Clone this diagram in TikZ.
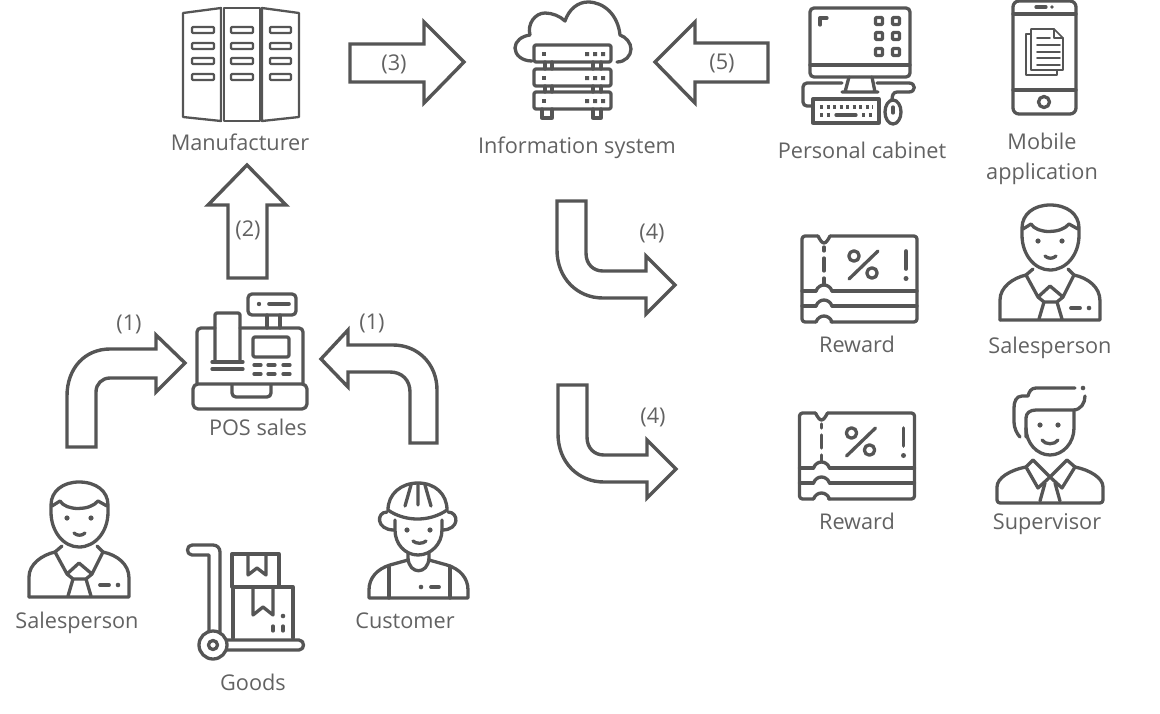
\documentclass[tikz,border=0pt]{standalone}
\usepackage{fontspec}
\setmainfont{Open Sans}
\usetikzlibrary{arrows,shapes,positioning}
\definecolor{icongray}{HTML}{555555}
\definecolor{textgray}{HTML}{626262}
\tikzset{
  icon/.style={draw=icongray, line width=3.3pt, line cap=round, line join=round},
  thinicon/.style={icon, line width=1.6pt},
  panelicon/.style={icon, line width=2.3pt},
  blockarrow/.style={draw=icongray, line width=3.4pt, line join=miter, fill=white},
  caption/.style={text=textgray, font=\fontsize{21.7}{26}\selectfont, inner sep=0pt, align=center},
  salesman/.pic={
    \draw[icon] (51,510) -- (51,505) .. controls (51,491) and (63,482) .. (79,482) .. controls (96,482) and (108,491) .. (108,505) -- (108,512)
      .. controls (108,532) and (95,547) .. (79,547) .. controls (64,547) and (51,532) .. (51,512) -- cycle;
    \draw[icon] (52,506) -- (60,501) .. controls (66,511) and (90,511) .. (98,501) -- (107,506);
    \fill[icongray] (67,518) circle (2.6) (91,518) circle (2.6);
    \draw[icon] (74,533) .. controls (77,536) and (82,536) .. (85,533);
    \draw[icon, rounded corners=1pt] (29,597) -- (29,578) .. controls (29,564) and (42,555) .. (55,552);
    \draw[icon] (103,552) .. controls (117,555) and (129,564) .. (129,578) -- (129,597) -- (29,597);
    \draw[icon] (62,546) -- (55,552) -- (67,574) -- (79,563) -- (92,574) -- (103,552) -- (97,546);
    \draw[icon] (67,574) -- (73,579) -- (86,579) -- (92,574);
    \draw[icon] (73,579) -- (68,596) (86,579) -- (91,596);
    \draw[icon, line width=3.8pt] (100,585) -- (109,585);
    \fill[icongray] (118,585) circle (2.3);
  },
  rewardticket/.pic={
    \draw[icon, rounded corners=3pt] (818,236) -- (802,236) -- (802,322) -- (816,322);
    \draw[icon, rounded corners=3pt] (831,322) -- (917,322) -- (917,236) -- (830,236);
    \draw[icon] (818,236) .. controls (820,240) and (822,243) .. (824,243) .. controls (826,243) and (828,240) .. (830,236);
    \draw[icon] (824,247) -- (824,251) (824,258) -- (824,271) (824,278) -- (824,284);
    \foreach \ya in {291,306,322} {
      \draw[icon] (816,\ya) .. controls (819,\ya-8) and (829,\ya-8) .. (832,\ya);
    }
    \draw[icon] (802,291) -- (816,291) (832,291) -- (917,291);
    \draw[icon] (802,306) -- (816,306) (832,306) -- (917,306);
    \draw[icon] (849,279) -- (878,251);
    \draw[icon] (854,256) circle (5.2) (872,273) circle (5.2);
    \draw[icon, line width=3.6pt] (906,251) -- (906,269);
    \fill[icongray] (906,278.5) circle (2.5);
  }
}

\begin{document}
\begin{tikzpicture}[x=1pt, y=-1pt]
  \useasboundingbox (0,0) rectangle (1160,713);

  % Define nodes
  \node[caption] (manufacturer) at (240,142) {Manufacturer};
  \node[caption] (infosystem) at (577,148) {Information system};
  \node[caption] (cabinet) at (862,150.5) {Personal cabinet};
  \node[caption] (mobile) at (1042,141) {Mobile};
  \node[caption] (mobileb) at (1042,174) {application};
  \node[caption] (possales) at (258,427) {POS sales};
  \node[caption] (salesleft) at (77,623) {Salesperson};
  \node[caption] (goods) at (253,682) {Goods};
  \node[caption] (customer) at (405,621) {Customer};
  \node[caption] (rewardtop) at (857,344) {Reward};
  \node[caption] (salesright) at (1050,348) {Salesperson};
  \node[caption] (rewardlow) at (857,521) {Reward};
  \node[caption] (supervisor) at (1047,524) {Supervisor};

  % Block arrows
  \draw[blockarrow] (350,44) -- (424,44) -- (424,22) -- (464,62) -- (424,103) -- (424,82) -- (350,82) -- cycle;
  \draw[blockarrow] (768,43) -- (695,43) -- (695,22) -- (655,62) -- (695,103) -- (695,82) -- (768,82) -- cycle;
  \draw[blockarrow] (228,278) -- (228,205) -- (208,205) -- (247,165) -- (286,205) -- (267,205) -- (267,278) -- cycle;
  \draw[blockarrow] (67,447) -- (67,396) .. controls (67,368) and (85,349) .. (110,349) -- (156,349) -- (156,335) -- (185,363) -- (156,392) -- (156,378)
    -- (110,378) .. controls (102,378) and (96,384) .. (96,392) -- (96,447) -- cycle;
  \draw[blockarrow] (437,443) -- (437,390) .. controls (437,364) and (418,345) .. (393,345) -- (348,345) -- (348,330) -- (321,359) -- (348,387) -- (348,372)
    -- (390,372) .. controls (402,372) and (410,380) .. (410,392) -- (410,443) -- cycle;
  \foreach \ya/\xa in {0/0,184/1} {
    \draw[blockarrow, shift={(\xa,\ya)}] (557,201) -- (586,201) -- (586,253) .. controls (586,264) and (593,271) .. (603,271) -- (646,271) -- (646,256) -- (675,285)
      -- (646,314) -- (646,298) -- (603,298) .. controls (577,298) and (557,278) .. (557,250) -- cycle;
  }
  \node[caption] (stepa) at (129,324) {(1)};
  \node[caption] (stepb) at (372,323) {(1)};
  \node[caption] (stepc) at (248,230) {(2)};
  \node[caption] (stepd) at (394,64) {(3)};
  \node[caption] (stepe) at (722,63) {(5)};
  \node[caption] (stepf) at (652,233) {(4)};
  \node[caption] (stepg) at (653,417) {(4)};

  % Manufacturer
  \draw[panelicon] (183,13) -- (221,8) -- (221,121) -- (183,117) -- cycle;
  \draw[panelicon, line width=2.8pt] (224,8) rectangle (260,121);
  \draw[panelicon] (262,8) -- (299,13) -- (299,117) -- (262,121) -- cycle;
  \foreach \ya in {30,46,61,77} {
    \draw[panelicon, rounded corners=1pt] (192,\ya-3) rectangle (214,\ya+3);
    \draw[panelicon, rounded corners=1pt] (231,\ya-3) rectangle (253,\ya+3);
    \draw[panelicon, rounded corners=1pt] (270,\ya-3) rectangle (291,\ya+3);
  }

  % Information system
  \draw[icon] (532,61) .. controls (522,61) and (515,55) .. (515,48) .. controls (515,41) and (522,36) .. (530,35)
    .. controls (527,24) and (535,13) .. (545,13) .. controls (552,13) and (560,16) .. (565,21)
    .. controls (569,9) and (578,2) .. (588,2) .. controls (604,2) and (618,15) .. (620,35)
    .. controls (626,37) and (631,43) .. (631,49) .. controls (631,56) and (625,62) .. (617,62);
  \foreach \ya in {45,69,92} {
    \draw[icon, rounded corners=2pt, fill=white] (534,\ya) rectangle (611,\ya+17);
    \fill[icongray] (541.5,\ya+7) rectangle +(4,4);
    \fill[icongray] (585,\ya+7) rectangle +(4,4) (593,\ya+7) rectangle +(4,4) (601,\ya+7) rectangle +(4,4);
  }
  \draw[icon] (545,62) -- (545,69) (552,62) -- (552,69) (593,62) -- (593,69) (601,62) -- (601,69);
  \draw[icon] (545,86) -- (545,92) (552,86) -- (552,92) (593,86) -- (593,92) (601,86) -- (601,92);
  \draw[icon] (542,109) -- (542,118) -- (552,118) -- (552,109) (593,109) -- (593,118) -- (601,118) -- (601,109);

  % Personal cabinet
  \draw[icon, rounded corners=4pt] (810,8) rectangle (910,77);
  \draw[icon] (810,65) -- (910,65);
  \draw[icon] (820,25) -- (820,18) -- (827,18);
  \foreach \xa in {879,896} {
    \foreach \ya in {21,36,52} {
      \draw[icon, rounded corners=1pt] (\xa-3.5,\ya-3.5) rectangle +(7,7);
    }
  }
  \draw[icon] (849,77) -- (845,92) (872,77) -- (875,92) (842,92) -- (878,92);
  \draw[icon, rounded corners=4pt] (842,83) -- (803,83) -- (803,106) -- (812,106);
  \draw[icon] (877,83) -- (909,83) .. controls (916,83) and (916,92) .. (909,92) -- (897,92) .. controls (893,92) and (892,96) .. (892,100);
  \draw[icon] (813,99) rectangle (879,123);
  \draw[icon, dash pattern=on 3pt off 3.5pt, line cap=butt] (820,107) -- (873,107);
  \draw[icon, dash pattern=on 3pt off 3.5pt, line cap=butt] (820,115) -- (830,115) (862,115) -- (873,115);
  \draw[icon] (836,115) -- (856,115);
  \draw[icon] (893,112) ellipse (8 and 12);
  \draw[icon] (893,107) -- (893,113);

  % Mobile application
  \draw[icon, rounded corners=6pt] (1013,1) rectangle (1076,114);
  \draw[icon] (1013,14) -- (1076,14) (1013,90) -- (1076,90);
  \draw[icon] (1036,7) -- (1046,7);
  \fill[icongray] (1052,7) circle (1.8);
  \draw[icon] (1044,102) circle (5.5);
  \draw[thinicon] (1031,34) -- (1026,34) -- (1026,75) -- (1057,75) -- (1057,70);
  \draw[thinicon] (1031,29) -- (1054,29) -- (1063,38) -- (1063,70) -- (1031,70) -- cycle;
  \draw[thinicon] (1054,29) -- (1054,38) -- (1063,38);
  \draw[thinicon] (1037,38) -- (1050,38);
  \foreach \ya in {45,52,58,65} {
    \draw[thinicon] (1037,\ya) -- (1060,\ya);
  }

  % POS sales
  \draw[icon, rounded corners=4pt] (248,294) rectangle (296,315);
  \fill[icongray] (259,304) circle (2.2);
  \draw[icon, line width=3.6pt] (269,304) -- (289,304);
  \draw[icon] (267,315) -- (267,328) (280,315) -- (280,328);
  \draw[icon, rounded corners=4pt] (215,328) -- (197,328) -- (197,384);
  \draw[icon, rounded corners=4pt] (240,328) -- (303,328) -- (303,384);
  \draw[icon, rounded corners=2pt] (215,362) -- (215,313) -- (240,313) -- (240,362);
  \draw[icon] (212,362) -- (243,362) (212,369) -- (243,369);
  \draw[icon, rounded corners=2pt] (253,337) rectangle (289,357);
  \foreach \ya in {365,374} {
    \draw[icon] (254,\ya) -- (261,\ya) (268,\ya) -- (275,\ya) (283,\ya) -- (290,\ya);
  }
  \draw[icon, rounded corners=5pt] (193,384) rectangle (307,409);
  \draw[icon, rounded corners=4pt] (232,385) -- (232,397) -- (271,397) -- (271,385);

  % Salespeople
  \pic at (0,0) {salesman};
  \pic at (971,-277) {salesman};

  % Goods
  \draw[icon] (192,545) -- (213,545) .. controls (217,545) and (220,548) .. (220,552) -- (220,632);
  \draw[icon] (192,545) .. controls (186,545) and (186,555) .. (192,555) -- (209,555) -- (209,632);
  \draw[icon] (213,645) circle (14) (213,645) circle (4.5);
  \draw[icon] (227,640) -- (299,640) .. controls (305,640) and (305,650) .. (299,650) -- (227,650);
  \draw[icon] (232,587) -- (232,554) -- (279,554) -- (279,587);
  \draw[icon] (233,638) -- (233,587) -- (293,587) -- (293,638);
  \draw[icon] (248,555) -- (248,575) -- (257,568) -- (266,575) -- (266,555);
  \draw[icon] (253,588) -- (253,615) -- (263,607) -- (273,615) -- (273,588);
  \fill[icongray] (283,616) circle (2.3);
  \draw[icon] (273,626) -- (273,631) (283,626) -- (283,631);

  % Customer
  \draw[icon] (388,510) .. controls (388,494) and (401,483) .. (418,483) .. controls (435,483) and (447,494) .. (447,510)
    .. controls (430,522) and (405,522) .. (388,510) -- cycle;
  \draw[icon] (405,506) -- (411,485) (418,484) -- (418,505) (431,506) -- (425,485);
  \draw[icon] (387,512) .. controls (376,512) and (376,530) .. (394,530);
  \draw[icon] (448,512) .. controls (459,512) and (460,530) .. (442,530);
  \draw[icon] (395,520) -- (395,530) .. controls (395,544) and (405,555) .. (418,555) .. controls (431,555) and (442,544) .. (442,530) -- (442,520);
  \fill[icongray] (407,530) circle (2.6) (430,530) circle (2.6);
  \draw[icon] (413,541) .. controls (416,544) and (423,544) .. (426,541);
  \draw[icon] (408,553) -- (408,558) .. controls (409,575) and (428,575) .. (429,558) -- (429,553);
  \draw[icon] (408,560) -- (390,565) .. controls (377,569) and (369,578) .. (369,590) -- (369,598) -- (468,598) -- (468,590)
    .. controls (468,578) and (460,569) .. (447,565) -- (429,560);
  \draw[icon] (389,566) -- (389,598) (450,566) -- (450,598);
  \fill[icongray] (421,587) circle (2.3);
  \draw[icon, line width=3.8pt] (431,587) -- (439,587);

  % Rewards
  \pic at (0,0) {rewardticket};
  \pic at (-2.5,177) {rewardticket};

  % Supervisor
  \draw[icon] (1075,388) -- (1036,388) .. controls (1031,388) and (1029,392) .. (1028,396) -- (1022,396) .. controls (1016,396) and (1014,402) .. (1014,408) -- (1014,422)
    .. controls (1014,428) and (1017,434) .. (1020,437);
  \draw[icon] (1026,437) -- (1026,418) .. controls (1026,413) and (1030,410) .. (1036,410) -- (1073,410) .. controls (1081,410) and (1085,403) .. (1085,396);
  \fill[icongray] (1083,388) circle (2.3);
  \draw[icon] (1026,428) .. controls (1026,443) and (1037,455) .. (1050,455) .. controls (1063,455) and (1074,443) .. (1074,428) -- (1074,411);
  \fill[icongray] (1040,425) circle (2.6) (1058,425) circle (2.6);
  \draw[icon] (1042,440) .. controls (1045,445) and (1055,445) .. (1058,440);
  \draw[icon, rounded corners=3pt] (1026,467) .. controls (1010,470) and (997,478) .. (997,490) -- (997,503) -- (1103,503) -- (1103,490) .. controls (1103,478) and (1090,470) .. (1075,467);
  \draw[icon] (1033,460) -- (1026,467) -- (1038,488) -- (1050,477) -- (1062,488) -- (1075,467) -- (1067,460);
  \draw[icon] (1033,460) -- (1050,477) -- (1067,460);
  \draw[icon] (1045,483) -- (1040,501) (1055,483) -- (1060,501);
\end{tikzpicture}
\end{document}
